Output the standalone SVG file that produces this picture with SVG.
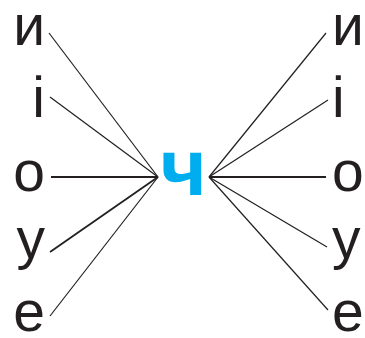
<svg xmlns="http://www.w3.org/2000/svg" width="365" height="338" viewBox="0 0 365 338">
<style>
.l{font-family:"Liberation Sans",Arial,sans-serif;font-size:57px;fill:#231f20}
.c{font-family:"Liberation Sans",Arial,sans-serif;font-size:80px;font-weight:bold;fill:#00aeef}
.e{stroke:#231f20;stroke-width:1.2;fill:none}
.t{stroke-width:1.8}
</style>
<rect width="365" height="338" fill="#fff"/>
<g id="connectors">
<line class="e" x1="49" y1="33" x2="158" y2="177"/>
<line class="e" x1="50" y1="97" x2="158" y2="177"/>
<line class="e t" x1="51" y1="177" x2="158" y2="177"/>
<line class="e t" x1="50" y1="252" x2="158" y2="177"/>
<line class="e" x1="50" y1="316" x2="158" y2="177"/>
<line class="e" x1="326" y1="33" x2="209" y2="177"/>
<line class="e" x1="328" y1="100" x2="209" y2="177"/>
<line class="e t" x1="326" y1="177" x2="209" y2="177"/>
<line class="e" x1="327" y1="247" x2="209" y2="177"/>
<line class="e" x1="328" y1="310" x2="209" y2="177"/>
</g>
<g id="center"><text class="c" x="183.5" y="195" text-anchor="middle">ч</text></g>
<g id="left-i"><text class="l" x="45" y="45" text-anchor="end">и</text></g>
<g id="left-ii"><text class="l" x="45" y="117" text-anchor="end">і</text></g>
<g id="left-o"><text class="l" x="45" y="191" text-anchor="end">о</text></g>
<g id="left-u"><text class="l" x="45" y="258" text-anchor="end">у</text></g>
<g id="left-e"><text class="l" x="45" y="331" text-anchor="end">е</text></g>
<g id="right-i"><text class="l" x="332" y="45">и</text></g>
<g id="right-ii"><text class="l" x="332" y="117">і</text></g>
<g id="right-o"><text class="l" x="332" y="191">о</text></g>
<g id="right-u"><text class="l" x="332" y="258">у</text></g>
<g id="right-e"><text class="l" x="332" y="331">е</text></g>
</svg>
